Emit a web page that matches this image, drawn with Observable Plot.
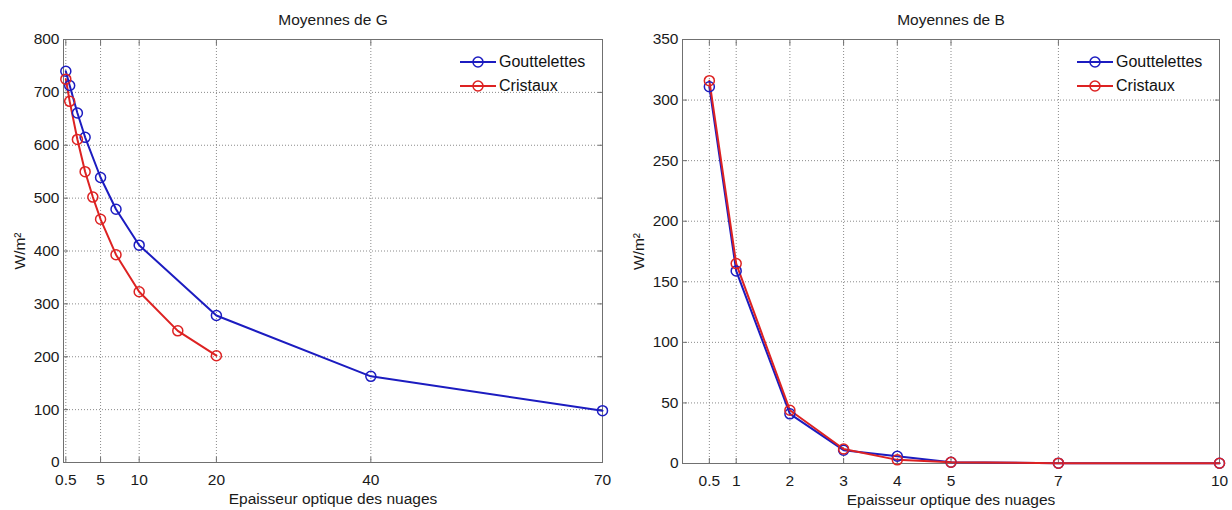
<!DOCTYPE html>
<html><head><meta charset="utf-8">
<script src="https://cdn.jsdelivr.net/npm/d3@7"></script>
<script src="https://cdn.jsdelivr.net/npm/@observablehq/plot@0.6"></script>
<style>
body{margin:0;background:#fff;font-family:"Liberation Sans",Arial,sans-serif;}
#wrap{display:flex;width:1232px;height:510px;}
.panel{position:relative;width:616px;height:510px;}
.legend{position:absolute;font-size:16px;color:#111;}
.legend .row{display:flex;align-items:center;height:24px;}
.legend svg{display:block;}
.legend span{margin-left:3px;}
</style></head><body><div id="wrap"></div>
<script>
const seriesNames = ["Gouttelettes", "Cristaux"];
const seriesColors = ["#1c1cc0", "#dd2222"];
const xLabel = "Epaisseur optique des nuages";
const yLabel = "W/m²";

// Panel 1 : Moyennes de G
const gTitle = "Moyennes de G";
const gGouttX = [0.5, 1, 2, 3, 5, 7, 10, 20, 40, 70];
const gGouttY = [740, 713, 661, 615, 539, 479, 411, 278, 163, 98];
const gCristX = [0.5, 1, 2, 3, 4, 5, 7, 10, 15, 20];
const gCristY = [725, 683, 611, 550, 502, 460, 393, 323, 249, 202];
const gXTicks = [0.5, 5, 10, 20, 40, 70];
const gYTicks = [0, 100, 200, 300, 400, 500, 600, 700, 800];

// Panel 2 : Moyennes de B
const bTitle = "Moyennes de B";
const bGouttX = [0.5, 1, 2, 3, 4, 5, 7, 10];
const bGouttY = [311, 159, 41, 11, 6, 1, 0.3, 0.2];
const bCristX = [0.5, 1, 2, 3, 4, 5, 7, 10];
const bCristY = [316, 165, 44, 12, 3, 1, 0.3, 0.2];
const bXTicks = [0.5, 1, 2, 3, 4, 5, 7, 10];
const bYTicks = [0, 50, 100, 150, 200, 250, 300, 350];

function chart({title, xDomain, yDomain, xTicks, yTicks, series, margins}) {
  const rows = series.flatMap(s => s.x.map((x, i) => ({x, y: s.y[i], name: s.name})));
  const grid = {stroke: "#8a8a8a", strokeOpacity: 1, strokeDasharray: "1,2", strokeWidth: 1};
  const fmt = d => String(d);
  return Plot.plot({
    width: 616, height: 510, ...margins,
    style: {fontFamily: "Liberation Sans, Arial, sans-serif", fontSize: "15px", color: "#1a1a1a", background: "#fff"},
    x: {domain: xDomain, axis: null},
    y: {domain: yDomain, axis: null},
    color: {domain: seriesNames, range: seriesColors},
    marks: [
      Plot.gridX(xTicks, grid),
      Plot.gridY(yTicks, grid),
      Plot.frame({stroke: "#707070"}),
      Plot.axisX(xTicks, {anchor: "bottom", tickSize: -5, tickPadding: 16, stroke: "#707070", fontSize: 15.5,
        tickFormat: fmt, label: xLabel, labelAnchor: "center", labelOffset: 41, labelArrow: "none"}),
      Plot.axisX(xTicks, {anchor: "top", tickSize: -5, stroke: "#707070", tickFormat: () => "", label: null}),
      Plot.axisY(yTicks, {anchor: "left", tickSize: -5, tickPadding: 9, stroke: "#707070", fontSize: 15.5,
        tickFormat: fmt, label: yLabel, labelAnchor: "center", labelOffset: 50, labelArrow: "none"}),
      Plot.axisY(yTicks, {anchor: "right", tickSize: -5, stroke: "#707070", tickFormat: () => "", label: null}),
      Plot.line(rows, {x: "x", y: "y", z: "name", stroke: "name", strokeWidth: 2}),
      Plot.dot(rows, {x: "x", y: "y", stroke: "name", r: 5, strokeWidth: 1.5, fill: "none"}),
      Plot.text([title], {frameAnchor: "top", dy: -19, fontSize: 15.5, lineAnchor: "middle", fill: "#1a1a1a"})
    ]
  });
}

function legend(left, top) {
  const div = document.createElement("div");
  div.className = "legend";
  div.style.left = left + "px";
  div.style.top = top + "px";
  seriesNames.forEach((n, i) => {
    const row = document.createElement("div");
    row.className = "row";
    row.innerHTML = `<svg width="36" height="24"><line x1="0" y1="12" x2="36" y2="12" stroke="${seriesColors[i]}" stroke-width="2"/><circle cx="18" cy="12" r="5" fill="none" stroke="${seriesColors[i]}" stroke-width="1.5"/></svg><span>${n}</span>`;
    div.appendChild(row);
  });
  return div;
}

const wrap = document.getElementById("wrap");
const p1 = document.createElement("div"); p1.className = "panel";
p1.appendChild(chart({
  title: gTitle, xDomain: [0.2, 70], yDomain: [0, 800], xTicks: gXTicks, yTicks: gYTicks,
  series: [{name: seriesNames[0], x: gGouttX, y: gGouttY}, {name: seriesNames[1], x: gCristX, y: gCristY}],
  margins: {marginLeft: 63, marginRight: 14, marginTop: 39, marginBottom: 48}
}));
p1.appendChild(legend(460, 50));
const p2 = document.createElement("div"); p2.className = "panel";
p2.appendChild(chart({
  title: bTitle, xDomain: [0, 10], yDomain: [0, 350], xTicks: bXTicks, yTicks: bYTicks,
  series: [{name: seriesNames[0], x: bGouttX, y: bGouttY}, {name: seriesNames[1], x: bCristX, y: bCristY}],
  margins: {marginLeft: 66, marginRight: 13, marginTop: 39, marginBottom: 47}
}));
p2.appendChild(legend(461, 50));
wrap.appendChild(p1);
wrap.appendChild(p2);
</script></body></html>
